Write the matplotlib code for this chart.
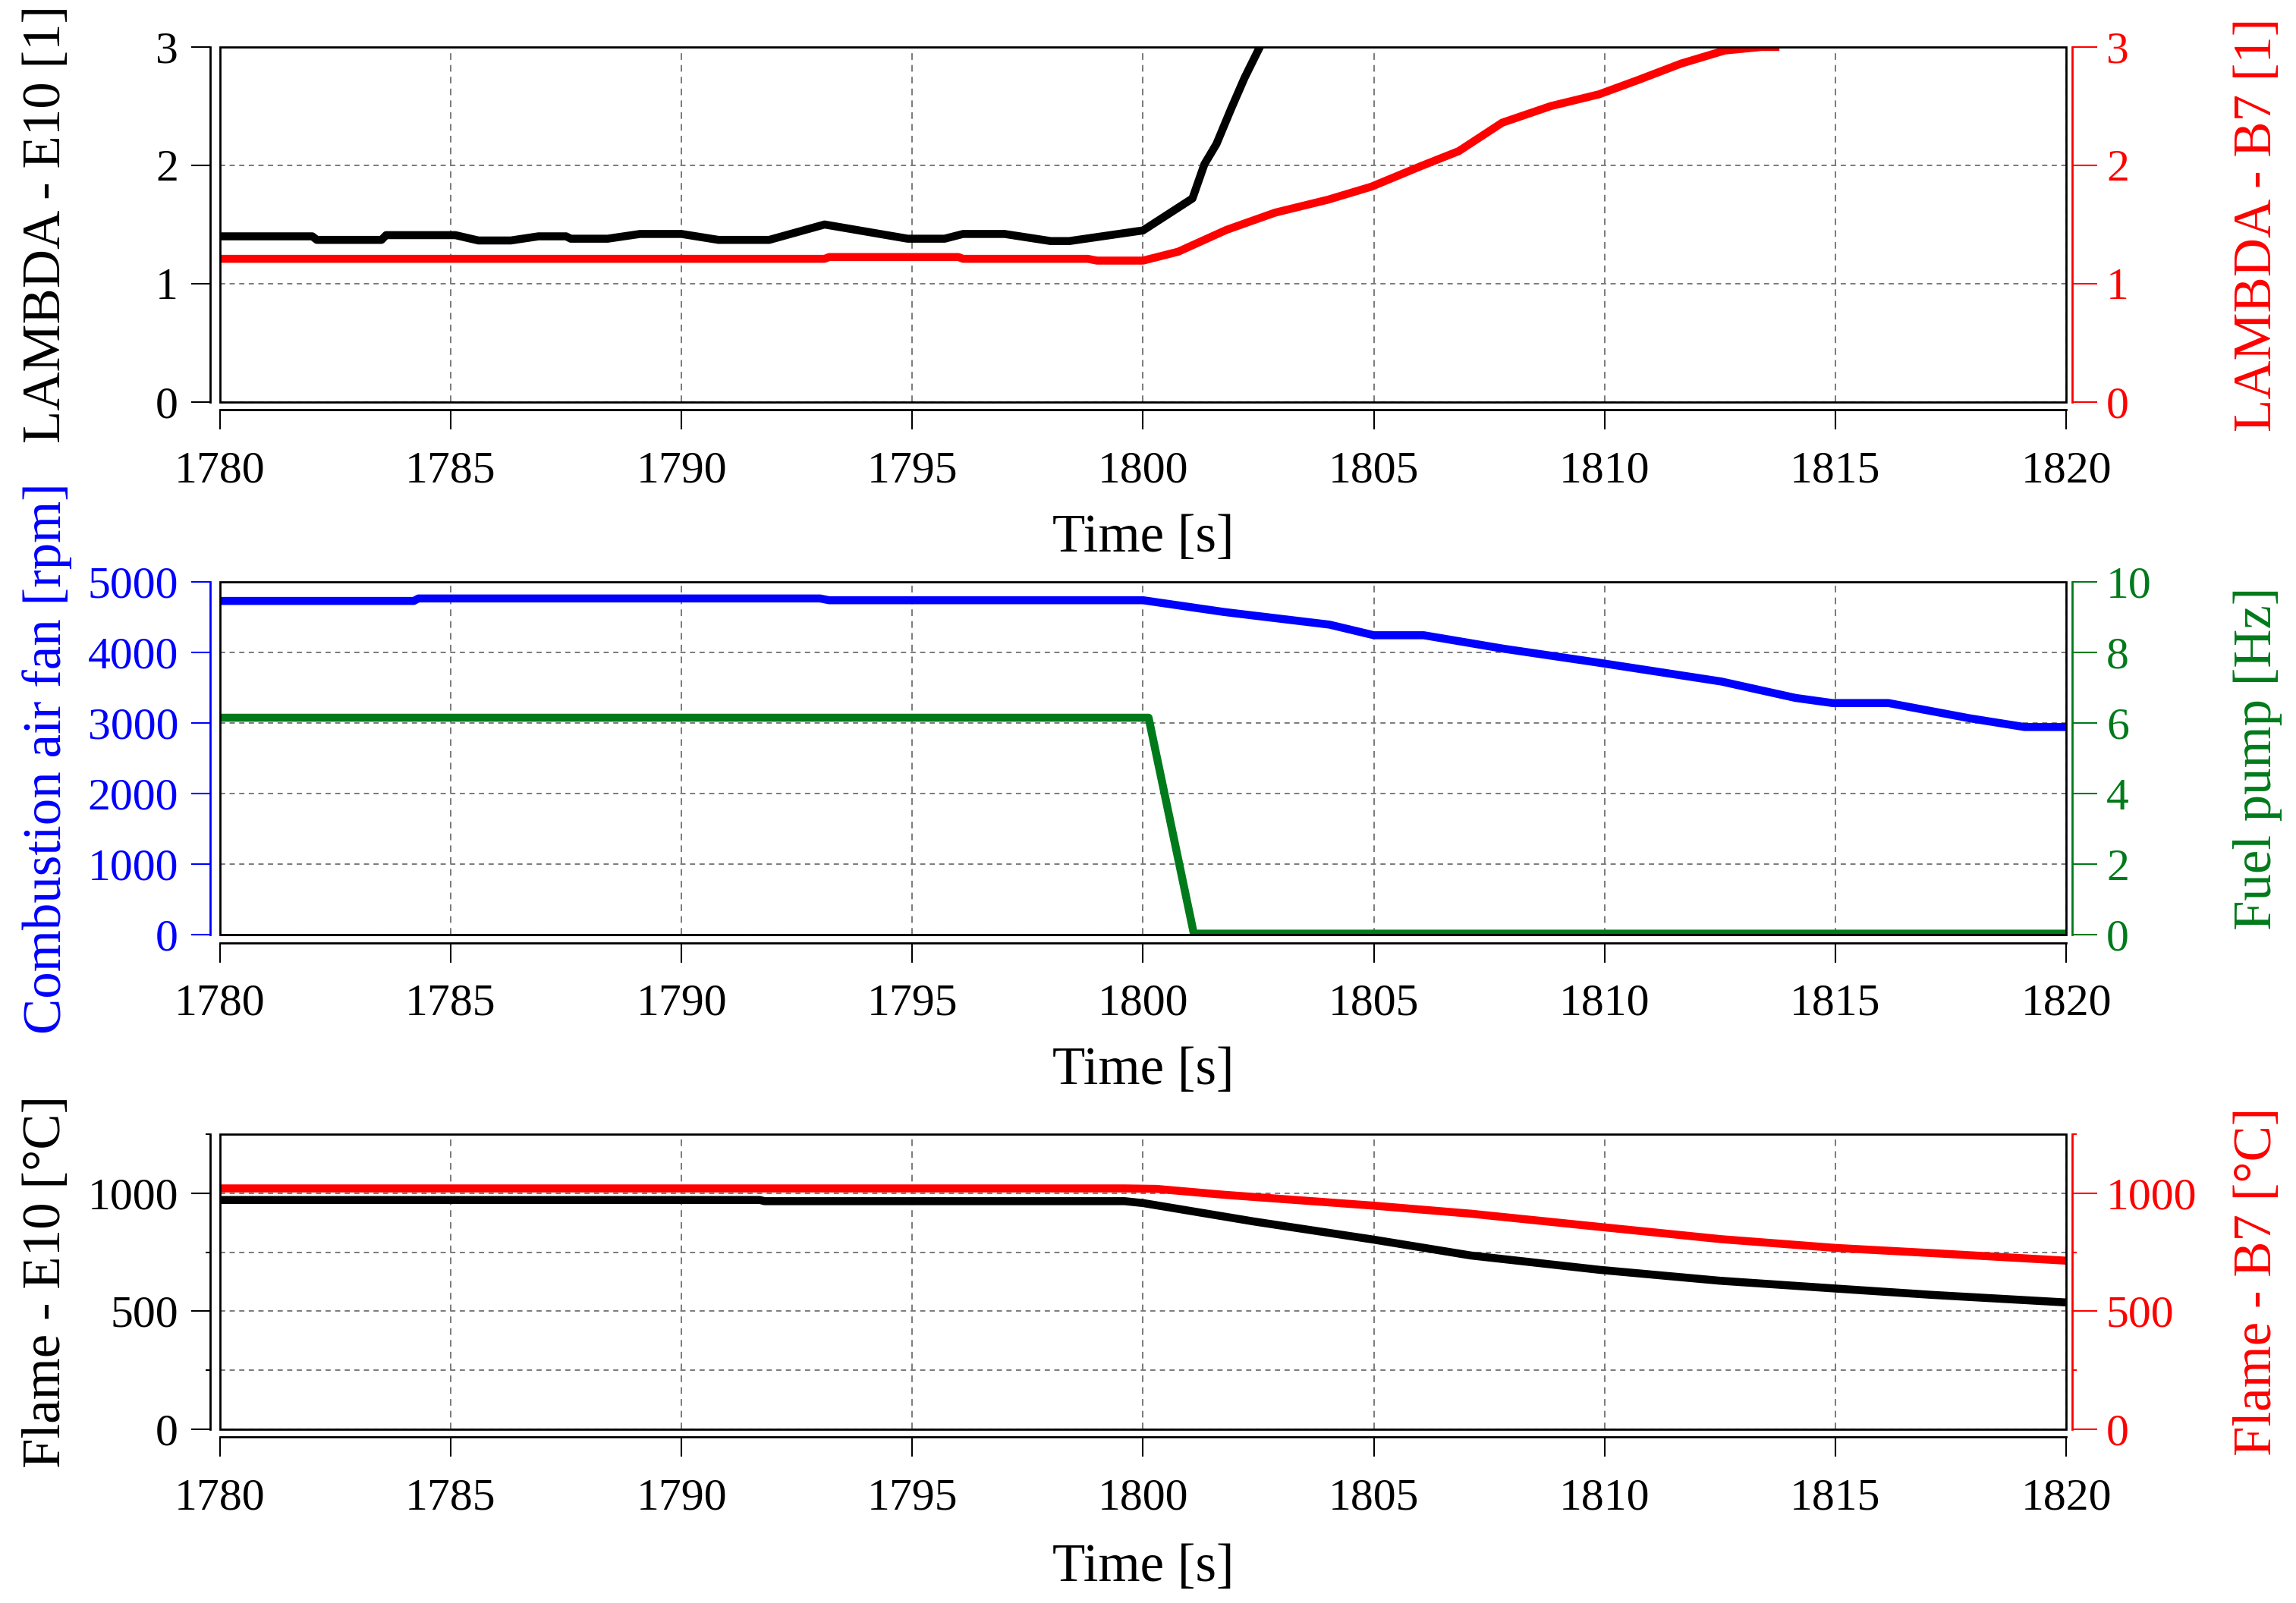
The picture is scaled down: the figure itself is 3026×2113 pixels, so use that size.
import matplotlib
matplotlib.use("Agg")
import matplotlib.pyplot as plt
from matplotlib.patches import Rectangle
from matplotlib.ticker import MultipleLocator

plt.rcParams['font.family'] = ['Liberation Serif', 'DejaVu Serif']

# ---------------- data ----------------
x_ticks = [1780, 1785, 1790, 1795, 1800, 1805, 1810, 1815, 1820]

t_lambda_e10 = [1780, 1782.0, 1782.1, 1783.5, 1783.6, 1785.1, 1785.6, 1786.3, 1786.9, 1787.5,
                1787.6, 1788.4, 1789.1, 1790.0, 1790.8, 1791.9, 1793.1, 1794.9, 1795.7, 1796.1,
                1797.0, 1798.0, 1798.4, 1800.0, 1801.07, 1801.33, 1801.59, 1801.91, 1802.2, 1802.53]
lambda_e10 = [1.40, 1.40, 1.37, 1.37, 1.41, 1.41, 1.365, 1.365, 1.40, 1.40,
              1.38, 1.38, 1.42, 1.42, 1.37, 1.37, 1.50, 1.38, 1.38, 1.42,
              1.42, 1.36, 1.36, 1.45, 1.72, 2.01, 2.18, 2.48, 2.74, 3.0]

t_lambda_b7 = [1780, 1793.1, 1793.2, 1796.0, 1796.1, 1798.8, 1799.0, 1800.0, 1800.76, 1801.81,
               1802.86, 1804.01, 1804.95, 1806.0, 1806.84, 1807.78, 1808.83, 1809.88, 1810.72,
               1811.66, 1812.6, 1813.4, 1813.7]
lambda_b7 = [1.21, 1.21, 1.225, 1.225, 1.21, 1.21, 1.195, 1.195, 1.27, 1.455,
             1.60, 1.71, 1.82, 1.99, 2.12, 2.36, 2.50, 2.60, 2.72,
             2.86, 2.97, 3.0, 3.0]

t_fan = [1780, 1784.2, 1784.3, 1793.0, 1793.2, 1800.0, 1801.76, 1804.04, 1805.0, 1806.08,
         1807.8, 1809.85, 1812.53, 1814.14, 1814.94, 1816.15, 1817.9, 1819.1, 1820]
fan_rpm = [4730, 4730, 4765, 4765, 4740, 4740, 4573, 4394, 4244, 4244,
           4054, 3857, 3588, 3355, 3283, 3283, 3068, 2943, 2943]

t_pump = [1780, 1800.12, 1801.1, 1820]
pump_hz = [6.15, 6.15, 0.03, 0.03]

t_flame_e10 = [1780, 1791.7, 1791.8, 1799.6, 1800.0, 1802.4, 1805.0, 1807.1, 1809.9,
               1812.5, 1815.0, 1817.1, 1820]
flame_e10 = [971, 971, 966, 966, 958, 880, 803, 736, 675, 629, 596, 569, 537]

t_flame_b7 = [1780, 1799.6, 1800.29, 1801.76, 1805.0, 1807.1, 1809.9, 1812.53, 1815.0,
              1817.1, 1820]
flame_b7 = [1020, 1020, 1018, 993, 947, 913, 857, 805, 768, 746, 714]

# ---------------- styling ----------------
RED = '#ff0000'
BLUE = '#0000ff'
GREEN = '#007a1a'
GRID = '#7a7a7a'
TICK_FS = 43
LABEL_FS = 51
LW = 7.6
SPINE_LW = 2.0

fig = plt.figure(figsize=(30.26, 21.13), dpi=100)

panels = [
    [0.0958, 0.7492, 0.8041, 0.2215],
    [0.0958, 0.4169, 0.8041, 0.2201],
    [0.0958, 0.1084, 0.8041, 0.1841],
]
xlabel_y = [-0.383, -0.385, -0.47]


def setup(pos, left_color, right_color, xl_y):
    ax = fig.add_axes(pos)
    ax.set_xlim(1780, 1820)
    ax.set_xticks(x_ticks)
    ax.spines['top'].set_visible(False)
    ax.spines['right'].set_visible(False)
    ax.spines['left'].set_position(('outward', 9.5))
    ax.spines['bottom'].set_position(('outward', 7.5))
    ax.spines['left'].set_color(left_color)
    ax.spines['left'].set_linewidth(SPINE_LW)
    ax.spines['bottom'].set_linewidth(SPINE_LW)
    ax.tick_params(axis='x', direction='out', length=19, width=1.5, labelsize=TICK_FS, pad=20)
    ax.tick_params(axis='y', which='major', direction='out', length=18, width=1.5,
                   labelsize=TICK_FS, pad=12, colors=left_color)
    ax.tick_params(axis='y', which='minor', direction='out', length=4, width=1.5,
                   colors=left_color)
    ax.grid(True, which='major', axis='x', color=GRID, linestyle=(0, (4.5, 3.5)), linewidth=1.4)
    ax.set_xlabel('Time [s]', fontsize=LABEL_FS)
    ax.xaxis.set_label_coords(0.5, xl_y)
    ax.xaxis.label.set_va('center')

    tw = ax.twinx()
    for s in ['top', 'left', 'bottom']:
        tw.spines[s].set_visible(False)
    tw.spines['right'].set_position(('outward', 6))
    tw.spines['right'].set_color(right_color)
    tw.spines['right'].set_linewidth(SPINE_LW)
    tw.tick_params(axis='y', which='major', direction='out', length=24, width=1.5,
                   labelsize=TICK_FS, pad=8, colors=right_color)
    tw.tick_params(axis='y', which='minor', direction='out', length=4, width=1.5,
                   colors=right_color)
    tw.add_patch(Rectangle((0, 0), 1, 1, transform=tw.transAxes, fill=False,
                           edgecolor='black', linewidth=SPINE_LW, zorder=10, clip_on=False))
    return ax, tw


def ylabels(ax, tw, ltxt, lcol, rtxt, rcol):
    ax.set_ylabel(ltxt, fontsize=LABEL_FS, color=lcol)
    ax.yaxis.set_label_coords(-0.0937, 0.5)
    ax.yaxis.label.set_va('center')
    tw.set_ylabel(rtxt, fontsize=LABEL_FS, color=rcol, rotation=90)
    tw.yaxis.set_label_coords(1.1036, 0.5)
    tw.yaxis.label.set_va('center')


hgrid = dict(color=GRID, linestyle=(0, (3.5, 3.0)), linewidth=1.4)

# ---- panel 1: lambda ----
ax1, tw1 = setup(panels[0], 'black', RED, xlabel_y[0])
ax1.set_ylim(0, 3)
ax1.set_yticks([0, 1, 2, 3])
tw1.set_ylim(0, 3)
tw1.set_yticks([0, 1, 2, 3])
ax1.grid(True, which='major', axis='y', **hgrid)
ax1.plot(t_lambda_e10, lambda_e10, color='black', lw=LW, solid_joinstyle='round')
tw1.plot(t_lambda_b7, lambda_b7, color=RED, lw=LW, solid_joinstyle='round')
ylabels(ax1, tw1, 'LAMBDA - E10 [1]', 'black', 'LAMBDA - B7 [1]', RED)

# ---- panel 2: fan & pump ----
ax2, tw2 = setup(panels[1], BLUE, GREEN, xlabel_y[1])
ax2.set_ylim(0, 5000)
ax2.set_yticks([0, 1000, 2000, 3000, 4000, 5000])
tw2.set_ylim(0, 10)
tw2.set_yticks([0, 2, 4, 6, 8, 10])
ax2.grid(True, which='major', axis='y', **hgrid)
ax2.plot(t_fan, fan_rpm, color=BLUE, lw=LW, solid_joinstyle='round')
tw2.plot(t_pump, pump_hz, color=GREEN, lw=LW, solid_joinstyle='round')
ylabels(ax2, tw2, 'Combustion air fan [rpm]', BLUE, 'Fuel pump [Hz]', GREEN)

# ---- panel 3: flame ----
ax3, tw3 = setup(panels[2], 'black', RED, xlabel_y[2])
ax3.set_ylim(0, 1250)
ax3.set_yticks([0, 500, 1000])
ax3.yaxis.set_minor_locator(MultipleLocator(250))
tw3.set_ylim(0, 1250)
tw3.set_yticks([0, 500, 1000])
tw3.yaxis.set_minor_locator(MultipleLocator(250))
ax3.grid(True, which='both', axis='y', **hgrid)
ax3.plot(t_flame_e10, flame_e10, color='black', lw=LW, solid_joinstyle='round')
tw3.plot(t_flame_b7, flame_b7, color=RED, lw=LW, solid_joinstyle='round')
ylabels(ax3, tw3, 'Flame - E10 [°C]', 'black', 'Flame - B7 [°C]', RED)

fig.savefig('out.png', dpi=100, facecolor='white')
